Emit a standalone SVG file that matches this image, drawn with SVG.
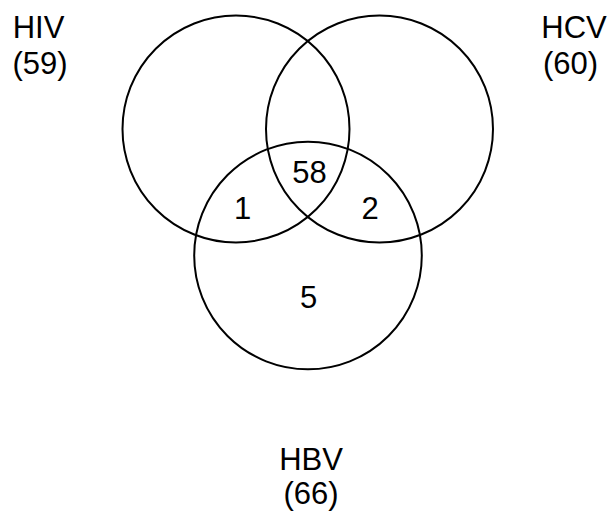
<svg xmlns="http://www.w3.org/2000/svg" width="608" height="511" viewBox="0 0 608 511">
  <style>
    .set { fill: none; stroke: #000; stroke-width: 2; }
    text { font-family: "Liberation Sans", Arial, sans-serif; font-size: 31px; fill: #000; text-anchor: middle; }
  </style>
  <rect width="608" height="511" fill="#fff"/>

  <!-- Set circles -->
  <g id="set-hiv">
    <circle class="set" cx="236" cy="129" r="113.5"/>
  </g>
  <g id="set-hcv">
    <circle class="set" cx="379.5" cy="129" r="113.5"/>
  </g>
  <g id="set-hbv">
    <circle class="set" cx="308" cy="255.5" r="113.8"/>
  </g>

  <!-- Set names with totals -->
  <g id="label-hiv">
    <text x="38.5" y="37.5">HIV</text>
    <text x="40" y="74">(59)</text>
  </g>
  <g id="label-hcv">
    <text x="574" y="37.5">HCV</text>
    <text x="570.5" y="74">(60)</text>
  </g>
  <g id="label-hbv">
    <text x="311" y="470">HBV</text>
    <text x="311" y="504">(66)</text>
  </g>

  <!-- Region counts -->
  <g id="count-all">
    <text x="309.5" y="182.5">58</text>
  </g>
  <g id="count-hiv-hbv">
    <text x="242.5" y="219">1</text>
  </g>
  <g id="count-hcv-hbv">
    <text x="370" y="219">2</text>
  </g>
  <g id="count-hbv">
    <text x="308.7" y="307.5">5</text>
  </g>
</svg>
